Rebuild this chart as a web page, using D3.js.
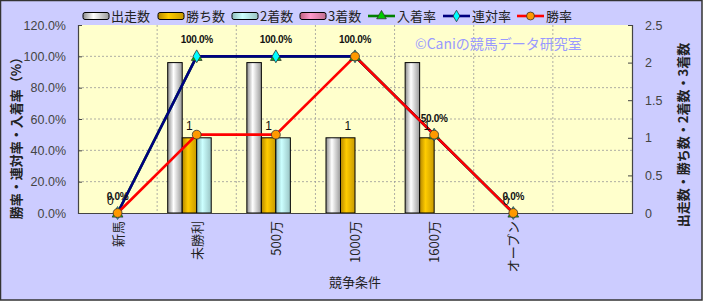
<!DOCTYPE html>
<html>
<head>
<meta charset="utf-8">
<script src="https://cdn.jsdelivr.net/npm/d3@7"></script>
<style>
body { margin: 0; background: #fff; }
text { font-family: "Liberation Sans", Arial, "Noto Sans CJK JP", sans-serif; }
.jp { font-family: "Noto Sans CJK JP", sans-serif; }
</style>
</head>
<body>
<div id="chart"></div>
<script>
// categories (last one is an empty slot, as in the original)
const categories = ["新馬", "未勝利", "500万", "1000万", "1600万", "オープン", ""];
const starts  = [0, 2, 2, 1, 2, 0];
const wins    = [0, 1, 1, 1, 1, 0];
const seconds = [0, 1, 1, 0, 0, 0];
const thirds  = [0, 0, 0, 0, 0, 0];
const winRate    = [0, 50, 50, 100, 50, 0];
const rentaiRate = [0, 100, 100, 100, 50, 0];
const placeRate  = [0, 100, 100, 100, 50, 0];
const leftTicks  = [0, 20, 40, 60, 80, 100, 120];
const rightTicks = [0, 0.5, 1, 1.5, 2, 2.5];

const W = 703, H = 301;
const margin = {left: 78, right: 71, top: 25, bottom: 88};
const innerW = W - margin.left - margin.right;
const innerH = H - margin.top - margin.bottom;

const svg = d3.select("#chart").append("svg")
    .attr("width", W).attr("height", H);

const defs = svg.append("defs");
const grads = {
    start:  ["#8c8c8c", "#ffffff", "#9a9a9a"],
    win:    ["#b38600", "#ffcc00", "#c89a00"],
    second: ["#8fbcbc", "#ccffff", "#99c4c4"],
    third:  ["#c0607f", "#ff99cc", "#c0708f"]
};
Object.entries(grads).forEach(([k, c]) => {
    const g = defs.append("linearGradient").attr("id", "g-" + k)
        .attr("x1", "0%").attr("x2", "100%").attr("y1", "0%").attr("y2", "0%");
    g.append("stop").attr("offset", "0%").attr("stop-color", c[0]);
    g.append("stop").attr("offset", "40%").attr("stop-color", c[1]);
    g.append("stop").attr("offset", "100%").attr("stop-color", c[2]);
});

// background and frame
svg.append("rect").attr("x", 0.5).attr("y", 0.5).attr("width", W - 1.5).attr("height", H - 1.5)
    .attr("fill", "#ccccff").attr("stroke", "#333").attr("stroke-width", 1.5);

const g = svg.append("g").attr("transform", `translate(${margin.left}, ${margin.top})`);
g.append("rect").attr("width", innerW).attr("height", innerH).attr("fill", "#ffffcc");

const x = d3.scaleBand().domain(categories.map((c, i) => i)).range([0, innerW]);
const yL = d3.scaleLinear().domain([0, 120]).range([innerH, 0]);
const yR = d3.scaleLinear().domain([0, 2.5]).range([innerH, 0]);
const xc = i => x(i) + x.bandwidth() / 2;

// grid
g.append("g").selectAll("line").data(leftTicks.slice(1, -1)).join("line")
    .attr("x1", 0).attr("x2", innerW).attr("y1", d => yL(d)).attr("y2", d => yL(d))
    .attr("stroke", "#999").attr("stroke-dasharray", "2,2").attr("stroke-width", 0.8);
g.append("g").selectAll("line").data(d3.range(1, categories.length)).join("line")
    .attr("x1", d => x(d)).attr("x2", d => x(d)).attr("y1", 0).attr("y2", innerH)
    .attr("stroke", "#999").attr("stroke-dasharray", "2,2").attr("stroke-width", 0.8);

// watermark
g.append("text").attr("class", "jp").attr("x", 337).attr("y", 24)
    .attr("font-size", 14).attr("fill", "#9999ff").text("©Caniの競馬データ研究室");

// bars
const barW = 14.5;
const barSeries = [
    {key: "start", vals: starts},
    {key: "win", vals: wins},
    {key: "second", vals: seconds},
    {key: "third", vals: thirds}
];
const barsG = g.append("g");
barSeries.forEach((s, si) => {
    barsG.append("g").selectAll("rect").data(s.vals.map((v, i) => ({v, i})).filter(d => d.v > 0)).join("rect")
        .attr("x", d => xc(d.i) + (si - 2) * barW)
        .attr("y", d => yR(d.v))
        .attr("width", barW)
        .attr("height", d => innerH - yR(d.v))
        .attr("fill", `url(#g-${s.key})`)
        .attr("stroke", "#000").attr("stroke-width", 1);
});

// axes
const axisL = g.append("g").call(d3.axisLeft(yL).tickValues(leftTicks).tickSize(-4).tickPadding(12)
    .tickFormat(d => d.toFixed(1) + "%"));
const axisR = g.append("g").attr("transform", `translate(${innerW}, 0)`)
    .call(d3.axisRight(yR).tickValues(rightTicks).tickSize(-4).tickPadding(13)
    .tickFormat(d => d));
const axisB = g.append("g").attr("transform", `translate(0, ${innerH})`)
    .call(d3.axisBottom(x).tickSize(0).tickFormat(""));
[axisL, axisR, axisB].forEach(a => {
    a.select(".domain").attr("stroke", "#444").attr("stroke-width", 1.2);
    a.selectAll(".tick line").attr("stroke", "#444");
    a.selectAll("text").attr("font-size", 12.5).attr("fill", "#444")
        .attr("font-family", "'Liberation Sans', Arial, sans-serif");
});

// category labels (rotated)
g.append("g").selectAll("text").data(categories).join("text")
    .attr("class", "jp")
    .attr("transform", (d, i) => `translate(${xc(i) + 5}, ${innerH + 8}) rotate(-90)`)
    .attr("text-anchor", "end").attr("font-size", 13).attr("fill", "#222")
    .text(d => d);

// lines
const lineSeries = [
    {vals: placeRate, color: "#008000", marker: "triangle", fill: "#00cc00"},
    {vals: rentaiRate, color: "#000080", marker: "diamond", fill: "#00ffff"},
    {vals: winRate, color: "#ff0000", marker: "circle", fill: "#ff9900"}
];
const line = d3.line().x((d, i) => xc(i)).y(d => yL(d));
lineSeries.forEach(s => {
    g.append("path").datum(s.vals).attr("d", line)
        .attr("fill", "none").attr("stroke", s.color).attr("stroke-width", 2.6);
});
const symbolType = {triangle: d3.symbolTriangle, diamond: d3.symbolDiamond, circle: d3.symbolCircle};
const symbolSize = {triangle: 50, diamond: 48, circle: 62};
lineSeries.forEach(s => {
    g.append("g").selectAll("path").data(s.vals).join("path")
        .attr("transform", (d, i) => `translate(${xc(i)}, ${yL(d) + (s.marker === "triangle" ? 1 : 0)})`)
        .attr("d", d3.symbol(symbolType[s.marker], symbolSize[s.marker]))
        .attr("fill", s.fill).attr("stroke", "#333").attr("stroke-width", 0.8);
});

// data labels
g.append("g").selectAll("text").data(wins).join("text")
    .attr("x", (d, i) => xc(i) - barW / 2)
    .attr("y", d => yR(d) - 8)
    .attr("text-anchor", "middle").attr("font-size", 12).attr("fill", "#111")
    .text(d => d);
g.append("g").selectAll("text").data(placeRate).join("text")
    .attr("x", (d, i) => xc(i))
    .attr("y", d => yL(d) - 13)
    .attr("text-anchor", "middle").attr("font-size", 10).attr("font-weight", "bold")
    .attr("fill", "#111").attr("letter-spacing", -0.3)
    .text(d => d.toFixed(1) + "%");

// axis titles
svg.append("text").attr("class", "jp")
    .attr("transform", `translate(21, 135) rotate(-90)`)
    .attr("text-anchor", "middle").attr("font-size", 13).attr("font-weight", "bold").attr("fill", "#222")
    .text("勝率・連対率・入着率（%）");
svg.append("text").attr("class", "jp")
    .attr("transform", `translate(688, 135) rotate(-90)`)
    .attr("text-anchor", "middle").attr("font-size", 13).attr("font-weight", "bold").attr("fill", "#222")
    .text("出走数・勝ち数・2着数・3着数");
svg.append("text").attr("class", "jp")
    .attr("x", 355).attr("y", 287).attr("text-anchor", "middle")
    .attr("font-size", 13).attr("fill", "#222").text("競争条件");

// legend
const legend = svg.append("g").attr("transform", "translate(0, 16)");
const legendBars = [
    {label: "出走数", key: "start", x: 83},
    {label: "勝ち数", key: "win", x: 158},
    {label: "2着数", key: "second", x: 232},
    {label: "3着数", key: "third", x: 300}
];
legendBars.forEach(d => {
    legend.append("rect").attr("x", d.x).attr("y", -3.5).attr("width", 26).attr("height", 7)
        .attr("rx", 2).attr("fill", `url(#g-${d.key})`).attr("stroke", "#000").attr("stroke-width", 1);
    legend.append("text").attr("class", "jp").attr("x", d.x + 28).attr("y", 5)
        .attr("font-size", 13).attr("fill", "#222").text(d.label);
});
const legendLines = [
    {label: "入着率", s: lineSeries[0], x: 368},
    {label: "連対率", s: lineSeries[1], x: 443},
    {label: "勝率", s: lineSeries[2], x: 517}
];
legendLines.forEach(d => {
    legend.append("line").attr("x1", d.x).attr("x2", d.x + 27).attr("y1", 0).attr("y2", 0)
        .attr("stroke", d.s.color).attr("stroke-width", 2.6);
    legend.append("path").attr("transform", `translate(${d.x + 13.5}, 0)`)
        .attr("d", d3.symbol(symbolType[d.s.marker], symbolSize[d.s.marker] * 0.8))
        .attr("fill", d.s.fill).attr("stroke", "#333").attr("stroke-width", 0.8);
    legend.append("text").attr("class", "jp").attr("x", d.x + 29).attr("y", 5)
        .attr("font-size", 13).attr("fill", "#222").text(d.label);
});
</script>
</body>
</html>
